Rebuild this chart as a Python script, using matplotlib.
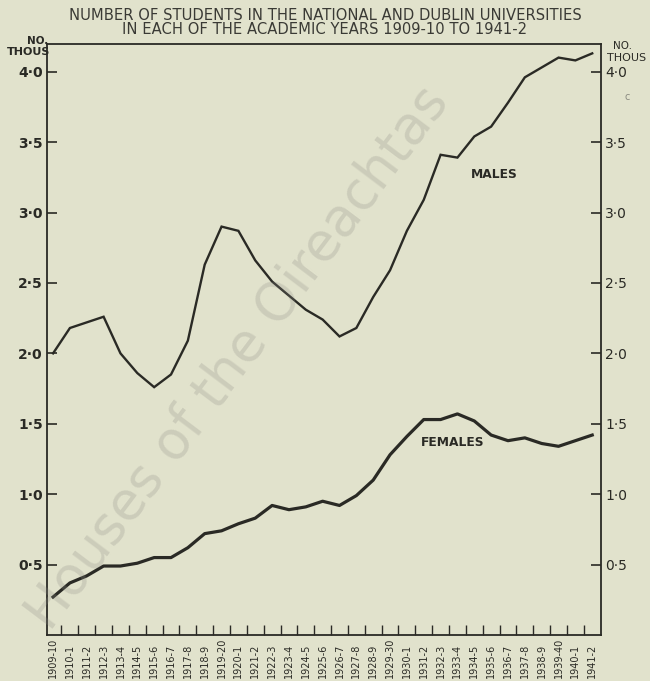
import matplotlib.pyplot as plt
from matplotlib.transforms import blended_transform_factory

years = [
    "1909-10", "1910-1", "1911-2", "1912-3", "1913-4", "1914-5", "1915-6",
    "1916-7", "1917-8", "1918-9", "1919-20", "1920-1", "1921-2", "1922-3",
    "1923-4", "1924-5", "1925-6", "1926-7", "1927-8", "1928-9", "1929-30",
    "1930-1", "1931-2", "1932-3", "1933-4", "1934-5", "1935-6", "1936-7",
    "1937-8", "1938-9", "1939-40", "1940-1", "1941-2",
]

# thousands of students
males = [2.00, 2.18, 2.22, 2.26, 2.00, 1.86, 1.76, 1.85, 2.09, 2.63, 2.90,
         2.87, 2.66, 2.51, 2.41, 2.31, 2.24, 2.12, 2.18, 2.40, 2.59, 2.87,
         3.09, 3.41, 3.39, 3.54, 3.61, 3.78, 3.96, 4.03, 4.10, 4.08, 4.13]
females = [0.27, 0.37, 0.42, 0.49, 0.49, 0.51, 0.55, 0.55, 0.62, 0.72, 0.74,
           0.79, 0.83, 0.92, 0.89, 0.91, 0.95, 0.92, 0.99, 1.10, 1.28, 1.41,
           1.53, 1.53, 1.57, 1.52, 1.42, 1.38, 1.40, 1.36, 1.34, 1.38, 1.42]

y_ticks = [0.5, 1.0, 1.5, 2.0, 2.5, 3.0, 3.5, 4.0]
y_labels = ["0·5", "1·0", "1·5", "2·0", "2·5", "3·0", "3·5", "4·0"]

paper = "#e1e2cc"
ink = "#2a2a25"

fig = plt.figure(figsize=(6.5, 6.81), dpi=100, facecolor=paper)
ax = fig.add_axes([0.0723, 0.0675, 0.8523, 0.8686], facecolor=paper)

x = list(range(len(years)))
ax.plot(x, males, color=ink, linewidth=1.7, solid_joinstyle="miter")
ax.plot(x, females, color=ink, linewidth=2.3, solid_joinstyle="round")

ax.set_xlim(-0.36, 32.52)
ax.set_ylim(0, 4.2)

for s in ax.spines.values():
    s.set_color(ink)
    s.set_linewidth(1.3)

# y axis: same scale on both sides, ticks pointing inward
ax.set_yticks(y_ticks)
ax.set_yticklabels(y_labels)
ax.tick_params(axis="y", direction="in", length=7, width=1.2, color=ink,
               left=True, right=True, labelleft=True, labelright=True,
               labelsize=10, labelcolor=ink, pad=3)
for t in ax.yaxis.get_major_ticks():
    t.label1.set_fontweight("bold")
    t.label2.set_fontweight("normal")

# x axis: short ticks between the years, labels written vertically
ax.set_xticks([i + 0.5 for i in range(len(years) - 1)])
ax.set_xticklabels([])
ax.tick_params(axis="x", direction="in", length=7, width=1.0, color=ink)

trans = blended_transform_factory(ax.transData, fig.transFigure)
for i, lab in enumerate(years):
    ax.text(i, 0.004, lab, transform=trans, rotation=90, ha="center",
            va="bottom", fontsize=7.0, color=ink, clip_on=False)

ax.text(26.2, 3.27, "MALES", fontsize=8.8, fontweight="bold", color=ink,
        ha="center", va="center")
ax.text(23.7, 1.37, "FEMALES", fontsize=8.8, fontweight="bold", color=ink,
        ha="center", va="center")

fig.text(0.5, 1 - 15 / 681, "NUMBER OF STUDENTS IN THE NATIONAL AND DUBLIN UNIVERSITIES",
         ha="center", va="center", fontsize=10.6, color="#3a3a35")
fig.text(0.5, 1 - 29 / 681, "IN EACH OF THE ACADEMIC YEARS 1909-10 TO 1941-2",
         ha="center", va="center", fontsize=10.6, color="#3a3a35")

fig.text(48 / 650, 1 - 41 / 681, "NO.", ha="right", va="center",
         fontsize=7.5, fontweight="bold", color=ink)
fig.text(50 / 650, 1 - 52 / 681, "THOUS", ha="right", va="center",
         fontsize=8, fontweight="bold", color=ink)
fig.text(613 / 650, 1 - 46 / 681, "NO.", ha="left", va="center",
         fontsize=7.5, color=ink)
fig.text(607 / 650, 1 - 58 / 681, "THOUS", ha="left", va="center",
         fontsize=8, color=ink)
fig.text(627 / 650, 1 - 97 / 681, "c", ha="center", va="center",
         fontsize=7, color="#8a8a80")

# faint archive watermark across the plot
fig.text(238 / 650, 1 - 358 / 681, "Houses of the Oireachtas", rotation=53,
         rotation_mode="anchor", ha="center", va="center", fontsize=38,
         color="#8c8c84", alpha=0.25, zorder=10)

fig.savefig("out.png", dpi=100, facecolor=paper)
